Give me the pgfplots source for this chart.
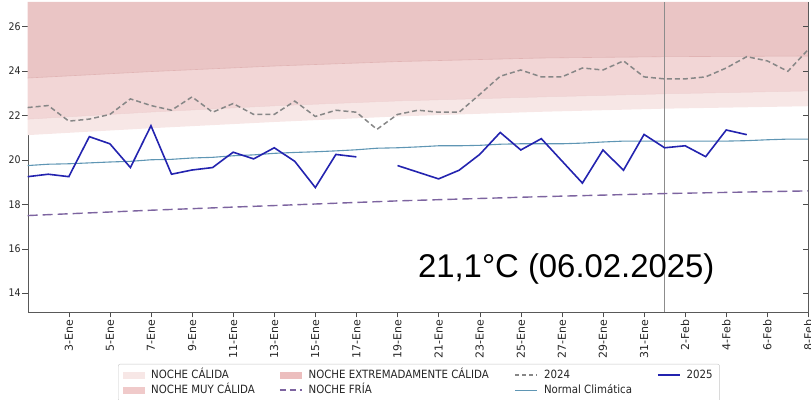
\documentclass[border=0pt]{standalone}
\usepackage{pgfplots}
\usepackage{pgfplotstable}
\pgfplotsset{compat=1.18}
\usepgfplotslibrary{fillbetween}
\usepackage{fontspec}
\setmainfont{DejaVu Sans}[FakeStretch=0.9]
\newfontfamily\dvfont{DejaVu Sans}
\newfontfamily\annfont{Liberation Sans}
\definecolor{bandlight}{RGB}{247,231,230}
\definecolor{bandmid}{RGB}{242,214,214}
\definecolor{banddark}{RGB}{234,197,197}
\definecolor{legmid}{RGB}{240,202,202}
\definecolor{legdark}{RGB}{236,190,190}
\definecolor{c2025}{RGB}{35,35,175}
\definecolor{cnorm}{RGB}{95,150,180}
\definecolor{cfria}{RGB}{125,100,160}
\definecolor{c2024}{RGB}{135,135,135}
\pgfplotsset{
  patchleg/.style={legend image code/.code={\fill[##1, draw=none, sharp corners] (0bp,-3.5bp) rectangle (22bp,3.5bp);}},
  lineleg/.style={legend image code/.code={\draw[##1, sharp corners] (0bp,0bp) -- (22bp,0bp);}},
}
\newcommand\legbox[2]{\makebox[#1][l]{\hspace{6bp}#2}}

\pgfplotstableread{
day low mid up top
1  21.11 21.83 23.68 27.1
7  21.42 22.15 23.97 27.1
13 21.70 22.43 24.22 27.1
19 21.95 22.65 24.42 27.1
26 22.16 22.83 24.58 27.1
32 22.30 22.97 24.64 27.1
39 22.41 23.10 24.67 27.1
}\bands

\pgfplotstableread{
day fria
1  17.49
7  17.73
13 17.94
19 18.15
26 18.34
32 18.48
39 18.60
}\fria

\pgfplotstableread{
day t2024 t2025 normal
1  22.35 19.24 19.74
2  22.44 19.35 19.80
3  21.74 19.24 19.82
4  21.83 21.04 19.86
5  22.04 20.72 19.90
6  22.74 19.65 19.93
7  22.44 21.53 20.00
8  22.23 19.35 20.02
9  22.83 19.54 20.08
10 22.14 19.65 20.11
11 22.53 20.34 20.18
12 22.04 20.04 20.22
13 22.04 20.54 20.29
14 22.64 19.93 20.33
15 21.95 18.75 20.36
16 22.23 20.24 20.40
17 22.14 20.13 20.45
18 21.37 nan   20.52
19 22.04 19.74 20.54
20 22.23 19.44 20.58
21 22.14 19.14 20.63
22 22.14 19.53 20.63
23 22.94 20.24 20.65
24 23.76 21.23 20.70
25 24.04 20.44 20.72
26 23.73 20.95 20.72
27 23.73 19.95 20.72
28 24.13 18.95 20.75
29 24.04 20.44 20.80
30 24.45 19.53 20.84
31 23.73 21.14 20.84
32 23.64 20.54 20.84
33 23.64 20.63 20.84
34 23.73 20.14 20.84
35 24.13 21.34 20.84
36 24.64 21.13 20.86
37 24.45 nan   20.90
38 23.98 nan   20.93
39 24.97 nan   20.93
}\series

\begin{document}
\begin{tikzpicture}
\begin{axis}[
  at={(27.7bp,88bp)}, anchor=south west,
  scale only axis, width=780.7bp, height=310bp,
  xmin=1, xmax=39, ymin=13.15, ymax=27.1,
  axis line style={black!65},
  tick style={black!70},
  major tick length=5.5bp,
  tick align=outside,
  xtick pos=bottom, ytick pos=left,
  ytick={14,16,...,26},
  xtick={3,5,...,39},
  xticklabels={3-Ene,5-Ene,7-Ene,9-Ene,11-Ene,13-Ene,15-Ene,17-Ene,19-Ene,21-Ene,23-Ene,25-Ene,27-Ene,29-Ene,31-Ene,2-Feb,4-Feb,6-Feb,8-Feb},
  xticklabel style={rotate=90, anchor=east, font=\dvfont\fontsize{11}{12}\selectfont, inner sep=2bp, text=black!85},
  yticklabel style={font=\fontsize{10.5}{12}\selectfont, inner sep=1.5bp, text=black!85},
  /pgf/number format/assume math mode=true,
  unbounded coords=jump,
  legend columns=4,
  legend style={at={(0.11567,-0.1677)}, anchor=north west,
    draw=black!22, rounded corners=2bp, fill=white,
    inner xsep=5bp, inner ysep=5bp,
    nodes={inner sep=0pt, text height=9bp, text depth=3bp, text=black!85},
    row sep=3bp, column sep=0pt,
    font=\fontsize{11.4}{13}\selectfont},
  legend cell align=left,
]
% bands
\addplot[name path=low, draw=none, forget plot] table[x=day,y=low]{\bands};
\addplot[name path=mid, draw={rgb,255:red,238;green,208;blue,208}, line width=0.5bp, forget plot] table[x=day,y=mid]{\bands};
\addplot[name path=up, draw={rgb,255:red,225;green,180;blue,180}, line width=0.6bp, forget plot] table[x=day,y=up]{\bands};
\addplot[name path=top, draw=none, forget plot] table[x=day,y=top]{\bands};
\addplot[bandlight, forget plot] fill between[of=low and mid];
\addplot[bandmid, forget plot] fill between[of=mid and up];
\addplot[banddark, forget plot] fill between[of=up and top];
% vertical line 1-Feb
\addplot[black!45, line width=0.8bp, forget plot] coordinates {(32,13.15) (32,27.1)};
% lines
\addplot[cfria, line width=1.4bp, dash pattern=on 10bp off 5bp, forget plot] table[x=day,y=fria]{\fria};
\addplot[cnorm, line width=1.1bp, forget plot] table[x=day,y=normal]{\series};
\addplot[c2024, line width=1.5bp, dash pattern=on 5bp off 3bp, forget plot] table[x=day,y=t2024]{\series};
\addplot[c2025, line width=1.6bp, forget plot] table[x=day,y=t2025]{\series};
% legend
\addlegendimage{patchleg, fill=bandlight}
\addlegendentry{\legbox{134bp}{NOCHE CÁLIDA}}
\addlegendimage{patchleg, fill=legdark}
\addlegendentry{\legbox{212bp}{NOCHE EXTREMADAMENTE CÁLIDA}}
\addlegendimage{lineleg, c2024, line width=1.4bp, dash pattern=on 4bp off 3bp}
\addlegendentry{\legbox{119bp}{2024}}
\addlegendimage{lineleg, c2025, line width=1.6bp}
\addlegendentry{\legbox{34bp}{2025}}
\addlegendimage{patchleg, fill=legmid}
\addlegendentry{\legbox{134bp}{NOCHE MUY CÁLIDA}}
\addlegendimage{lineleg, cfria, line width=1.4bp, dash pattern=on 6bp off 4bp}
\addlegendentry{\legbox{212bp}{NOCHE FRÍA}}
\addlegendimage{lineleg, cnorm, line width=1.1bp}
\addlegendentry{\legbox{119bp}{Normal Climática}}
% annotation
\node[anchor=base west, inner sep=0pt, font=\annfont\fontsize{33}{36}\selectfont] at (axis cs:19.99,14.70) {21,1°C (06.02.2025)};
\end{axis}
\begin{axis}[
  at={(27.7bp,88bp)}, anchor=south west,
  scale only axis, width=780.7bp, height=310bp,
  xmin=1, xmax=39, ymin=13.15, ymax=27.1,
  axis x line=none, axis y line*=right,
  axis line style={black!65},
  tick style={black!70},
  ytick={14,16,...,26}, yticklabels={},
  tick align=inside, major tick length=5bp,
]
\addplot[draw=none, forget plot] coordinates {(1,20) (39,20)};
\end{axis}
\pgfresetboundingbox
\path[use as bounding box] (0,0) rectangle (811bp,400bp);
\end{tikzpicture}
\end{document}
